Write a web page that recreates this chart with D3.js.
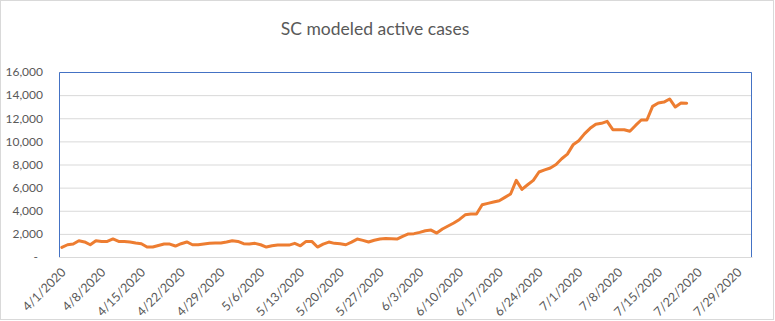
<!DOCTYPE html>
<html>
<head>
<meta charset="utf-8">
<script src="https://cdn.jsdelivr.net/npm/d3@7"></script>
<style>
  body { margin: 0; background: #fff; }
  svg { display: block; }
  text { font-family: Lato, "Open Sans", "Liberation Sans", sans-serif; fill: #595959; }
</style>
</head>
<body>
<svg id="chart" width="775" height="321"></svg>
<script>
const title = "SC modeled active cases";
const startDate = "2020-04-01";
const axisEndDate = "2020-08-01";
const activeCases = [
  830, 1060, 1120, 1410, 1300, 1060, 1410, 1350, 1350, 1560,
  1350, 1350, 1300, 1210, 1150, 860, 860, 1000, 1120, 1120,
  950, 1150, 1300, 1060, 1060, 1120, 1180, 1210, 1210, 1300,
  1410, 1350, 1150, 1120, 1180, 1060, 860, 970, 1030, 1030,
  1030, 1180, 970, 1350, 1350, 860, 1120, 1290, 1180, 1150,
  1060, 1290, 1550, 1440, 1300, 1450, 1560, 1610, 1580, 1550,
  1780, 1990, 2020, 2130, 2270, 2330, 2070, 2420, 2680, 2940,
  3250, 3650, 3720, 3720, 4520, 4640, 4760, 4870, 5160, 5450,
  6630, 5850, 6250, 6630, 7350, 7530, 7700, 8000, 8500, 8900,
  9700, 10050, 10650, 11130, 11480, 11560, 11730, 11010, 11010, 11010,
  10870, 11380, 11850, 11850, 13030, 13320, 13400, 13670, 12970, 13320,
  13300
];
const xTickLabels = ["2020-04-01","2020-04-08","2020-04-15","2020-04-22","2020-04-29",
  "2020-05-06","2020-05-13","2020-05-20","2020-05-27","2020-06-03","2020-06-10",
  "2020-06-17","2020-06-24","2020-07-01","2020-07-08","2020-07-15","2020-07-22","2020-07-29"];
const yTicks = [0, 2000, 4000, 6000, 8000, 10000, 12000, 14000, 16000];

const parse = d3.utcParse("%Y-%m-%d");
const start = parse(startDate);
const data = activeCases.map((v, i) => ({ date: d3.utcDay.offset(start, i), value: v }));
const tickDates = xTickLabels.map(parse);

const svg = d3.select("#chart");
const W = 775, H = 321;
const plot = { left: 59, right: 752, top: 72, bottom: 257 };

// chart area border
svg.append("rect").attr("x", 0.5).attr("y", 0.5).attr("width", W - 2).attr("height", H - 2)
  .attr("fill", "#fff").attr("stroke", "#d9d9d9");

const x = d3.scaleUtc().domain([start, parse(axisEndDate)]).range([plot.left, plot.right]);
const halfDay = (x(d3.utcDay.offset(start, 1)) - x(start)) / 2;
const y = d3.scaleLinear().domain([0, 16000]).range([plot.bottom, plot.top]);

// title
svg.append("text").attr("x", 375).attr("y", 35).attr("text-anchor", "middle")
  .style("font-size", "17.5px").text(title);

// gridlines + y labels
const yAxis = d3.axisLeft(y).tickValues(yTicks).tickSize(-(plot.right - plot.left))
  .tickFormat(d => d === 0 ? "-" : d3.format(",")(d)).tickPadding(16);
const gy = svg.append("g").attr("transform", `translate(${plot.left},0)`).call(yAxis);
gy.select(".domain").remove();
gy.selectAll(".tick line").attr("stroke", "#d9d9d9").attr("stroke-width", 1);
gy.selectAll(".tick text").style("font-size", "12px").attr("fill", "#595959");
gy.selectAll(".tick").filter(d => d === 0).select("text").attr("dx", "-5px");

// plot area border (blue left/top/right)
svg.append("path")
  .attr("d", `M${plot.left + 0.5},${plot.bottom}V${plot.top + 0.5}H${plot.right - 0.5}V${plot.bottom}`)
  .attr("fill", "none").attr("stroke", "#4472c4").attr("stroke-width", 1);

// x axis
const xAxis = d3.axisBottom(x).tickValues(tickDates).tickSize(0)
  .tickFormat(d3.utcFormat("%-m/%-d/%Y"));
const gx = svg.append("g").attr("transform", `translate(0,${plot.bottom})`).call(xAxis);
gx.select(".domain").attr("stroke", "#d9d9d9");
gx.selectAll(".tick text")
  .style("font-size", "12.5px").attr("fill", "#595959")
  .attr("text-anchor", "end")
  .attr("dy", "0.35em").attr("y", 0)
  .attr("transform", "translate(4,13) rotate(-45)");

// line (points centred in their day slot)
const line = d3.line().x(d => x(d.date) + halfDay).y(d => y(d.value));
svg.append("path").datum(data).attr("d", line)
  .attr("fill", "none").attr("stroke", "#ed7d31").attr("stroke-width", 3)
  .attr("stroke-linejoin", "round").attr("stroke-linecap", "round");
</script>
</body>
</html>
